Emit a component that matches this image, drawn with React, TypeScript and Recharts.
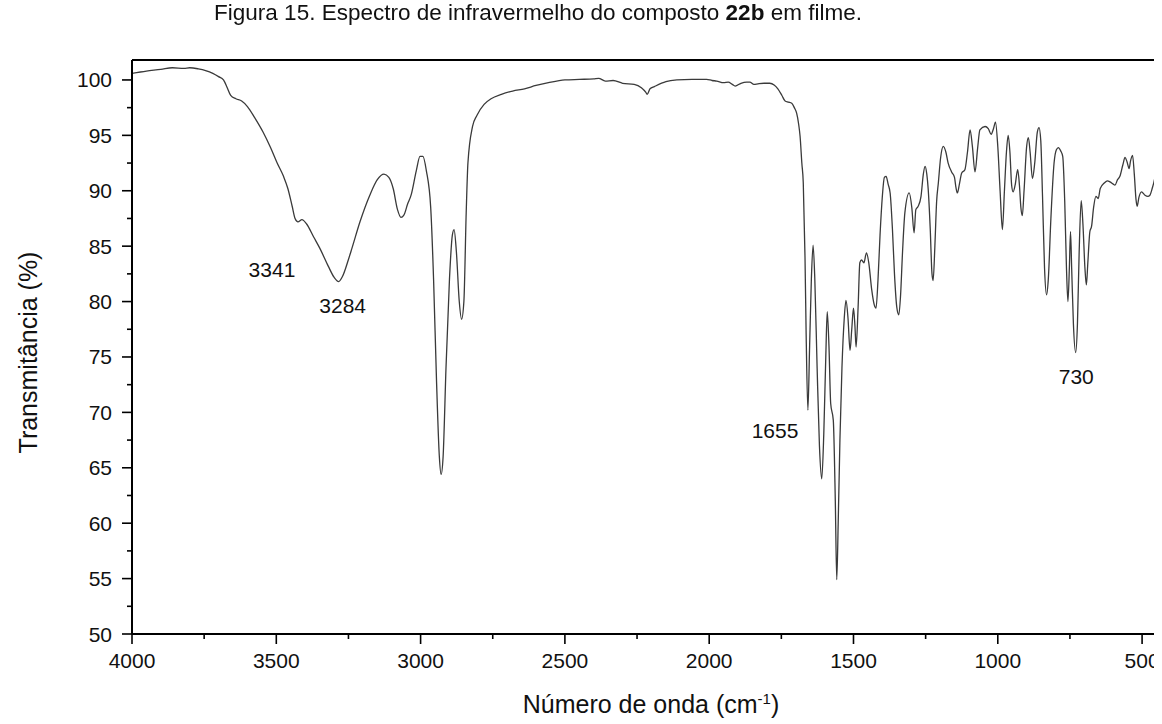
import React from 'react';
import { LineChart, Line, XAxis, YAxis, ReferenceLine, ReferenceDot } from 'recharts';

const wavenumbers: number[] = [
  4000, 3950, 3900, 3860, 3820, 3800, 3770, 3745, 3720, 3700, 3683, 3670, 3658, 3640, 3620, 3600, 3575, 3546, 3520, 3497,
  3475, 3460, 3445, 3435, 3425, 3411, 3395, 3370, 3349, 3320, 3300, 3284, 3270, 3250, 3238, 3210, 3176, 3150, 3127, 3110,
  3095, 3080, 3068, 3058, 3045, 3033, 3015, 3002, 2992, 2980, 2965, 2955, 2945, 2935, 2929, 2922, 2912, 2900, 2890, 2884,
  2876, 2866, 2858, 2850, 2842, 2836, 2820, 2805, 2780, 2756, 2720, 2681, 2640, 2600, 2557, 2500, 2450, 2400, 2383, 2360,
  2333, 2300, 2260, 2235, 2220, 2215, 2205, 2190, 2150, 2112, 2060, 2009, 1990, 1974, 1950, 1934, 1920, 1910, 1890, 1870,
  1859, 1845, 1831, 1810, 1790, 1775, 1762, 1748, 1737, 1725, 1714, 1705, 1697, 1690, 1685, 1679, 1674, 1668, 1664, 1658,
  1652, 1646, 1640, 1634, 1626, 1618, 1610, 1603, 1596, 1591, 1585, 1579, 1570, 1563, 1558, 1553, 1547, 1540, 1532, 1526,
  1519, 1512, 1506, 1500, 1495, 1491, 1484, 1478, 1472, 1464, 1455, 1447, 1437, 1428, 1422, 1415, 1408, 1400, 1393, 1387,
  1380, 1373, 1365, 1358, 1350, 1343, 1337, 1330, 1322, 1307, 1298, 1290, 1284, 1276, 1266, 1258, 1252, 1246, 1241, 1234,
  1228, 1224, 1218, 1212, 1206, 1198, 1189, 1180, 1172, 1160, 1150, 1145, 1140, 1133, 1125, 1114, 1105, 1096, 1088, 1079,
  1070, 1062, 1044, 1033, 1023, 1015, 1008, 1000, 992, 984, 977, 970, 964, 958, 952, 947, 940, 931, 925, 920,
  915, 909, 900, 894, 888, 880, 872, 863, 857, 851, 845, 838, 831, 825, 816, 805, 797, 790, 782, 775,
  768, 762, 757, 752, 748, 744, 738, 730, 724, 718, 711, 705, 698, 693, 688, 681, 675, 668, 660, 652,
  645, 631, 620, 611, 600, 594, 585, 577, 567, 559, 552, 545, 540, 533, 527, 521, 517, 511, 502, 490,
  480, 473, 465, 455, 445, 438, 431,
];

const transmittance: number[] = [
  100.6, 100.8, 100.95, 101.1, 101.05, 101.1, 101.0, 100.85, 100.6, 100.3, 100.0, 99.3, 98.6, 98.3, 98.1, 97.6, 96.6, 95.3, 93.9, 92.5,
  91.3, 90.2, 88.6, 87.5, 87.2, 87.4, 87.0, 85.8, 84.8, 83.2, 82.2, 81.8, 82.3, 83.8, 84.8, 87.2, 89.6, 91.0, 91.5, 91.2,
  90.2, 88.3, 87.6, 87.8, 88.8, 89.6, 91.8, 93.1, 93.1, 91.8, 88.5, 82.0, 73.0, 66.0, 64.4, 66.0, 74.0, 82.0, 86.0, 86.5,
  84.5, 80.0, 78.4, 80.0, 88.0, 92.5, 95.8, 96.8, 97.8, 98.3, 98.7, 99.0, 99.2, 99.5, 99.75, 100.0, 100.05, 100.1, 100.15, 99.9,
  99.95, 99.7, 99.6, 99.3, 98.9, 98.7, 99.2, 99.4, 99.85, 100.0, 100.05, 100.05, 99.95, 99.9, 99.75, 99.8, 99.6, 99.45, 99.7, 99.8,
  99.8, 99.6, 99.65, 99.7, 99.7, 99.55, 99.2, 98.6, 98.1, 98.0, 97.9, 97.5, 97.0, 96.0, 94.9, 92.5, 90.7, 84.0, 77.0, 70.2,
  76.0, 82.0, 85.1, 82.0, 74.0, 67.0, 64.0, 68.0, 75.0, 79.1, 76.0, 70.8, 69.3, 62.0, 54.9, 60.0, 67.5, 74.0, 78.5, 80.1,
  78.5, 75.6, 77.5, 79.4, 77.8, 75.9, 79.5, 83.5, 83.75, 83.5, 84.4, 83.5, 81.1, 79.7, 79.4, 82.0, 86.0, 89.5, 91.2, 91.3,
  90.6, 89.8, 86.5, 82.5, 79.5, 78.8, 80.5, 84.5, 88.0, 89.8, 88.5, 86.2, 88.3, 88.6, 89.5, 91.5, 92.2, 91.5, 90.1, 86.5,
  82.5, 81.9, 85.0, 89.0, 90.7, 93.0, 94.0, 93.5, 92.5, 91.7, 91.2, 90.3, 89.8, 90.6, 91.6, 91.9, 93.5, 95.5, 94.0, 91.7,
  93.8, 95.5, 95.8, 95.6, 95.1, 95.6, 96.2, 94.0, 90.0, 86.5, 90.0, 93.5, 95.0, 93.5, 90.5, 89.9, 90.5, 91.9, 90.5, 88.5,
  87.75, 90.0, 94.0, 94.8, 93.5, 91.1, 92.5, 95.3, 95.7, 94.5, 89.5, 83.0, 80.6, 82.0, 87.5, 92.5, 93.7, 93.9, 93.6, 93.1,
  89.0, 83.0, 80.0, 83.0, 86.3, 83.0, 78.0, 75.4, 78.0, 84.5, 89.1, 87.0, 83.0, 81.5, 83.5, 86.3, 86.8, 88.5, 89.5, 89.3,
  90.2, 90.7, 90.9, 90.8, 90.6, 90.5, 91.0, 91.3, 92.3, 93.0, 92.6, 92.0, 92.7, 93.2, 91.5, 89.2, 88.6, 89.4, 89.9, 89.6,
  89.5, 89.6, 90.2, 91.3, 93.5, 95.2, 96.0,
];

const xTicks: number[] = [4000, 3750, 3500, 3250, 3000, 2750, 2500, 2250, 2000, 1750, 1500, 1250, 1000, 750, 500];
const yTicks: number[] = [50, 52.5, 55, 57.5, 60, 62.5, 65, 67.5, 70, 72.5, 75, 77.5, 80, 82.5, 85, 87.5, 90, 92.5, 95, 97.5, 100];

const annotationLabels: string[] = ['3341', '3284', '1655', '730'];
const annotationX: number[] = [3515, 3270, 1772, 728];
const annotationY: number[] = [82.9, 79.6, 68.4, 73.2];

const data = wavenumbers.map((w, i) => ({ w, t: transmittance[i] }));

const FONT = '"Liberation Sans", Arial, Helvetica, sans-serif';

const XTick = (props: any) => {
  const { x, y, payload } = props;
  const major = payload.value % 500 === 0;
  return (
    <g>
      <line x1={x} y1={y} x2={x} y2={y + (major ? 10 : 5)} stroke="#000" strokeWidth={1.6} />
      {major && (
        <text x={x} y={y + 34} textAnchor="middle" fontSize={21} fontFamily={FONT} fill="#111">
          {payload.value}
        </text>
      )}
    </g>
  );
};

const YTick = (props: any) => {
  const { x, y, payload } = props;
  const major = payload.value % 5 === 0;
  return (
    <g>
      <line x1={x} y1={y} x2={x - (major ? 10 : 5)} y2={y} stroke="#000" strokeWidth={1.6} />
      {major && (
        <text x={x - 20} y={y + 7.5} textAnchor="end" fontSize={21} fontFamily={FONT} fill="#111">
          {payload.value}
        </text>
      )}
    </g>
  );
};

export default function App() {
  return (
    <div style={{ position: 'relative', width: 1154, height: 716, fontFamily: FONT, color: '#111' }}>
      <div
        style={{
          position: 'fixed',
          zIndex: 2,
          top: 0,
          left: 8,
          width: 1060,
          textAlign: 'center',
          fontSize: 22.5,
          lineHeight: '25px',
          whiteSpace: 'nowrap',
          fontFamily: FONT,
          color: '#111',
        }}
      >
        Figura 15. Espectro de infravermelho do composto <b>22b</b> em filme.
      </div>
      <LineChart width={1154} height={716} data={data} margin={{ top: 52, right: 0, bottom: 0, left: 0 }}>
        <XAxis
          dataKey="w"
          type="number"
          domain={[431, 4000]}
          reversed
          allowDataOverflow
          ticks={xTicks}
          interval={0}
          tickSize={0}
          tickMargin={0}
          tick={<XTick />}
          height={90}
          axisLine={{ stroke: '#000', strokeWidth: 2 }}
          tickLine={false}
        />
        <YAxis
          type="number"
          domain={[50, 101.8]}
          allowDataOverflow
          ticks={yTicks}
          interval={0}
          tickSize={0}
          tickMargin={0}
          tick={<YTick />}
          width={124}
          axisLine={{ stroke: '#000', strokeWidth: 2 }}
          tickLine={false}
        />
        <ReferenceLine y={101.8} stroke="#000" strokeWidth={2} ifOverflow="extendDomain" />
        <Line
          type="monotone"
          dataKey="t"
          stroke="#3a3a3a"
          strokeWidth={1.3}
          dot={false}
          isAnimationActive={false}
        />
        {annotationLabels.map((lab, i) => (
          <ReferenceDot
            key={lab}
            x={annotationX[i]}
            y={annotationY[i]}
            r={0}
            fill="none"
            stroke="none"
            label={{ value: lab, position: 'center', fontSize: 21, fill: '#111', fontFamily: FONT }}
          />
        ))}
      </LineChart>
      <div
        style={{
          position: 'absolute',
          zIndex: 2,
          top: 682,
          left: 443,
          width: 400,
          textAlign: 'center',
          fontSize: 25,
          whiteSpace: 'nowrap',
        }}
      >
        Número de onda (cm<sup style={{ fontSize: 15 }}>-1</sup>)
      </div>
      <div
        style={{
          position: 'absolute',
          zIndex: 2,
          top: 330,
          left: -180,
          width: 400,
          textAlign: 'center',
          fontSize: 25,
          whiteSpace: 'nowrap',
          transform: 'rotate(-90deg)',
        }}
      >
        Transmitância (%)
      </div>
    </div>
  );
}
